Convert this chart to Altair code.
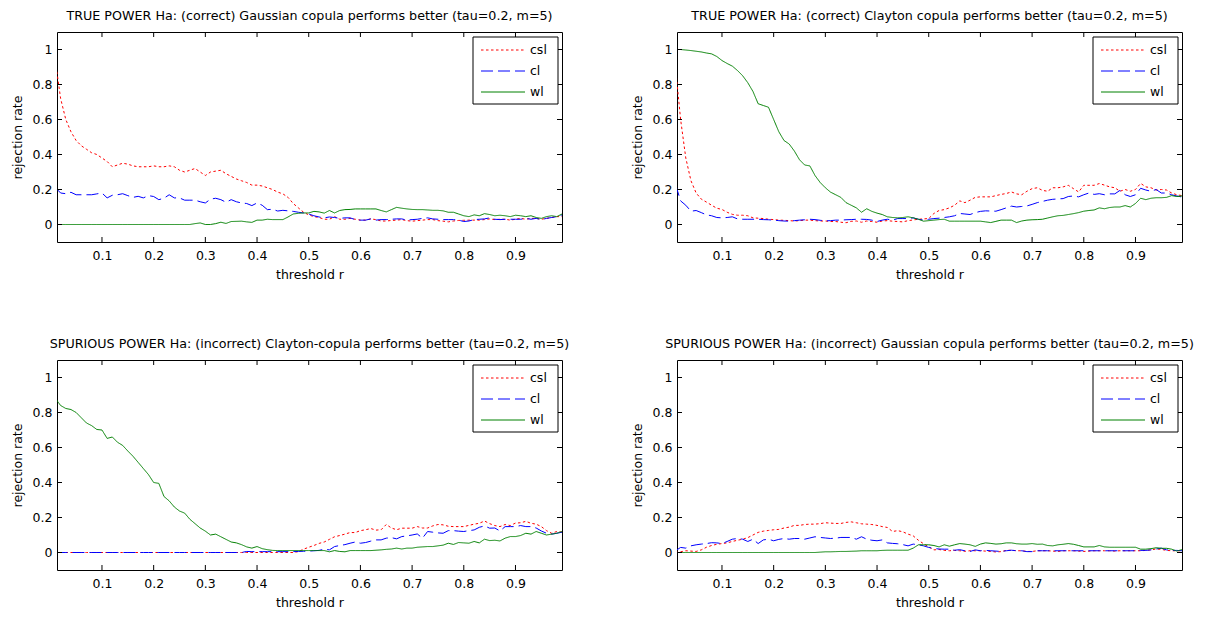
import altair as alt
import pandas as pd

FONT = "DejaVu Sans"

# threshold grid
X = [round(0.01 * i, 2) for i in range(1, 100)]
X_TICKS = [0.1, 0.2, 0.3, 0.4, 0.5, 0.6, 0.7, 0.8, 0.9]
Y_TICKS = [0, 0.2, 0.4, 0.6, 0.8, 1]

TITLES = [
    "TRUE POWER Ha: (correct) Gaussian copula performs better (tau=0.2, m=5)",
    "TRUE POWER Ha: (correct) Clayton copula performs better (tau=0.2, m=5)",
    "SPURIOUS POWER Ha: (incorrect) Clayton-copula performs better (tau=0.2, m=5)",
    "SPURIOUS POWER Ha: (incorrect) Gaussian copula performs better (tau=0.2, m=5)",
]

# ---- panel 1 ----
CSL1 = [0.93, 0.72, 0.60, 0.53, 0.48, 0.45, 0.43, 0.41, 0.40, 0.38,
        0.36, 0.33, 0.34, 0.35, 0.345, 0.335, 0.33, 0.33, 0.33, 0.335,
        0.33, 0.33, 0.335, 0.33, 0.31, 0.30, 0.31, 0.32, 0.30, 0.28,
        0.30, 0.305, 0.31, 0.29, 0.275, 0.26, 0.25, 0.24, 0.225, 0.225,
        0.22, 0.21, 0.20, 0.185, 0.175, 0.155, 0.12, 0.095, 0.07, 0.055,
        0.045, 0.04, 0.03, 0.03, 0.045, 0.03, 0.03, 0.035, 0.03, 0.025,
        0.025, 0.032, 0.028, 0.02, 0.02, 0.023, 0.025, 0.028, 0.022, 0.019,
        0.022, 0.025, 0.028, 0.028, 0.022, 0.019, 0.015, 0.02, 0.023, 0.024,
        0.025, 0.025, 0.025, 0.028, 0.032, 0.028, 0.03, 0.03, 0.025, 0.03,
        0.035, 0.03, 0.035, 0.035, 0.03, 0.035, 0.04, 0.045, 0.045]
CL1 = [0.21, 0.18, 0.176, 0.184, 0.17, 0.17, 0.17, 0.17, 0.175, 0.18,
       0.152, 0.167, 0.17, 0.176, 0.165, 0.155, 0.161, 0.152, 0.165, 0.16,
       0.142, 0.15, 0.17, 0.152, 0.152, 0.139, 0.139, 0.139, 0.13, 0.123,
       0.145, 0.15, 0.142, 0.127, 0.142, 0.13, 0.123, 0.12, 0.108, 0.123,
       0.11, 0.085, 0.087, 0.077, 0.081, 0.078, 0.075, 0.07, 0.066, 0.06,
       0.05, 0.043, 0.038, 0.043, 0.04, 0.035, 0.038, 0.038, 0.028, 0.025,
       0.025, 0.032, 0.025, 0.028, 0.028, 0.03, 0.032, 0.032, 0.025, 0.028,
       0.03, 0.035, 0.038, 0.032, 0.03, 0.028, 0.028, 0.028, 0.025, 0.017,
       0.02, 0.028, 0.03, 0.032, 0.038, 0.03, 0.028, 0.03, 0.03, 0.03,
       0.03, 0.035, 0.03, 0.035, 0.028, 0.035, 0.04, 0.045, 0.055]
WL1 = [0, 0, 0, 0, 0, 0, 0, 0, 0, 0,
       0, 0, 0, 0, 0, 0, 0, 0, 0, 0,
       0, 0, 0, 0, 0, 0, 0, 0.005, 0.009, 0.0,
       0.0, 0.005, 0.013, 0.006, 0.017, 0.018, 0.019, 0.015, 0.012, 0.025,
       0.025, 0.03, 0.028, 0.028, 0.028, 0.043, 0.06, 0.064, 0.066, 0.066,
       0.075, 0.072, 0.065, 0.08, 0.066, 0.08, 0.085, 0.086, 0.089, 0.089,
       0.089, 0.089, 0.089, 0.08, 0.072, 0.085, 0.098, 0.093, 0.089, 0.086,
       0.085, 0.085, 0.083, 0.081, 0.081, 0.078, 0.07, 0.07, 0.06, 0.05,
       0.045, 0.055, 0.05, 0.062, 0.057, 0.05, 0.053, 0.05, 0.045, 0.053,
       0.05, 0.045, 0.05, 0.04, 0.035, 0.045, 0.05, 0.045, 0.06]

# ---- panel 2 ----
CSL2 = [0.90, 0.60, 0.38, 0.25, 0.18, 0.145, 0.128, 0.11, 0.093, 0.086,
        0.07, 0.058, 0.053, 0.053, 0.05, 0.038, 0.036, 0.034, 0.03, 0.028,
        0.025, 0.024, 0.022, 0.02, 0.022, 0.025, 0.025, 0.022, 0.02, 0.02,
        0.017, 0.017, 0.013, 0.01, 0.018, 0.02, 0.013, 0.02, 0.017, 0.013,
        0.02, 0.022, 0.019, 0.017, 0.015, 0.022, 0.026, 0.03, 0.032, 0.034,
        0.063, 0.08, 0.085, 0.095, 0.11, 0.135, 0.125, 0.139, 0.155, 0.158,
        0.158, 0.158, 0.165, 0.172, 0.177, 0.186, 0.175, 0.17, 0.19, 0.205,
        0.21, 0.195, 0.19, 0.21, 0.21, 0.215, 0.224, 0.205, 0.186, 0.224,
        0.224, 0.224, 0.234, 0.225, 0.215, 0.21, 0.19, 0.2, 0.19, 0.2,
        0.235, 0.215, 0.21, 0.197, 0.2, 0.197, 0.18, 0.17, 0.165]
CL2 = [0.23, 0.135, 0.11, 0.076, 0.08, 0.068, 0.055, 0.05, 0.04, 0.038,
       0.04, 0.044, 0.032, 0.03, 0.03, 0.03, 0.03, 0.028, 0.027, 0.025,
       0.022, 0.02, 0.019, 0.022, 0.025, 0.027, 0.03, 0.028, 0.024, 0.021,
       0.022, 0.025, 0.025, 0.027, 0.028, 0.03, 0.03, 0.029, 0.025, 0.017,
       0.025, 0.03, 0.025, 0.034, 0.034, 0.034, 0.038, 0.03, 0.025, 0.03,
       0.034, 0.036, 0.04, 0.044, 0.05, 0.063, 0.06, 0.057, 0.068, 0.075,
       0.078, 0.077, 0.076, 0.085, 0.095, 0.105, 0.1, 0.103, 0.106, 0.115,
       0.125, 0.132, 0.139, 0.144, 0.146, 0.148, 0.16, 0.163, 0.158, 0.17,
       0.18, 0.172, 0.176, 0.17, 0.175, 0.175, 0.195, 0.17, 0.16, 0.17,
       0.207, 0.197, 0.19, 0.2, 0.18, 0.18, 0.17, 0.163, 0.157]
WL2 = [1.0, 1.0, 0.997, 0.994, 0.99, 0.986, 0.98, 0.975, 0.96, 0.937,
       0.92, 0.905, 0.88, 0.85, 0.81, 0.76, 0.69, 0.68, 0.67, 0.60,
       0.53, 0.48, 0.46, 0.42, 0.37, 0.34, 0.335, 0.28, 0.24, 0.21,
       0.185, 0.17, 0.155, 0.125, 0.11, 0.095, 0.07, 0.09, 0.075, 0.065,
       0.057, 0.044, 0.04, 0.038, 0.04, 0.044, 0.038, 0.03, 0.019, 0.022,
       0.025, 0.028, 0.03, 0.019, 0.019, 0.019, 0.019, 0.019, 0.019, 0.019,
       0.015, 0.011, 0.018, 0.025, 0.025, 0.025, 0.011, 0.02, 0.025, 0.027,
       0.028, 0.03, 0.037, 0.044, 0.05, 0.052, 0.057, 0.062, 0.068, 0.076,
       0.08, 0.083, 0.095, 0.09, 0.097, 0.1, 0.1, 0.108, 0.1, 0.12,
       0.15, 0.142, 0.15, 0.153, 0.153, 0.155, 0.165, 0.16, 0.163]

# ---- panel 3 ----
CSL3 = [0, 0, 0, 0, 0, 0, 0, 0, 0, 0,
        0, 0, 0, 0, 0, 0, 0, 0, 0, 0,
        0, 0, 0, 0, 0, 0, 0, 0, 0, 0,
        0, 0, 0, 0, 0, 0, 0, 0, 0, 0,
        0, 0, 0, 0, 0, 0, 0, 0.005, 0.019, 0.03,
        0.04, 0.052, 0.06, 0.075, 0.09, 0.097, 0.105, 0.114, 0.114, 0.125,
        0.13, 0.137, 0.128, 0.13, 0.16, 0.14, 0.13, 0.139, 0.139, 0.139,
        0.148, 0.14, 0.14, 0.152, 0.16, 0.158, 0.15, 0.148, 0.148, 0.148,
        0.155, 0.162, 0.167, 0.18, 0.165, 0.154, 0.148, 0.16, 0.154, 0.168,
        0.17, 0.178, 0.167, 0.162, 0.148, 0.125, 0.11, 0.12, 0.116]
CL3 = [0, 0, 0, 0, 0, 0, 0, 0, 0, 0,
       0, 0, 0, 0, 0, 0, 0, 0, 0, 0,
       0, 0, 0, 0, 0, 0, 0, 0, 0, 0,
       0, 0, 0, 0, 0, 0, 0, 0.006, 0.005, 0.005,
       0.005, 0.005, 0.005, 0.005, 0.005, 0.005, 0.005, 0.006, 0.007, 0.008,
       0.01, 0.012, 0.019, 0.015, 0.034, 0.04, 0.045, 0.053, 0.06, 0.053,
       0.057, 0.065, 0.072, 0.072, 0.082, 0.085, 0.078, 0.091, 0.095, 0.1,
       0.106, 0.082, 0.12, 0.116, 0.112, 0.11, 0.125, 0.125, 0.122, 0.12,
       0.125, 0.129, 0.144, 0.152, 0.139, 0.14, 0.123, 0.148, 0.148, 0.148,
       0.154, 0.148, 0.148, 0.14, 0.123, 0.11, 0.105, 0.11, 0.116]
WL3 = [0.88, 0.84, 0.823, 0.817, 0.80, 0.77, 0.74, 0.725, 0.703, 0.70,
       0.652, 0.66, 0.63, 0.612, 0.58, 0.55, 0.515, 0.48, 0.445, 0.40,
       0.395, 0.32, 0.295, 0.26, 0.237, 0.225, 0.19, 0.165, 0.14, 0.122,
       0.10, 0.105, 0.09, 0.075, 0.06, 0.055, 0.045, 0.032, 0.025, 0.034,
       0.022, 0.016, 0.012, 0.011, 0.011, 0.011, 0.011, 0.011, 0.011, 0.011,
       0.011, 0.011, 0.011, 0.004, 0.011, 0.006, 0.004, 0.011, 0.011, 0.011,
       0.011, 0.011, 0.013, 0.015, 0.018, 0.02, 0.025, 0.02, 0.025, 0.025,
       0.03, 0.032, 0.034, 0.034, 0.038, 0.042, 0.053, 0.046, 0.057, 0.055,
       0.053, 0.063, 0.055, 0.076, 0.068, 0.07, 0.066, 0.082, 0.091, 0.091,
       0.097, 0.11, 0.105, 0.12, 0.11, 0.1, 0.105, 0.11, 0.12]

# ---- panel 4 ----
CSL4 = [0.0, 0.004, 0.01, 0.008, 0.006, 0.015, 0.03, 0.04, 0.047, 0.051,
        0.055, 0.063, 0.07, 0.076, 0.085, 0.1, 0.115, 0.122, 0.126, 0.13,
        0.132, 0.14, 0.145, 0.155, 0.155, 0.16, 0.162, 0.162, 0.165, 0.17,
        0.168, 0.166, 0.166, 0.172, 0.175, 0.17, 0.164, 0.162, 0.16, 0.155,
        0.148, 0.143, 0.12, 0.125, 0.118, 0.105, 0.095, 0.07, 0.05, 0.032,
        0.015, 0.017, 0.012, 0.01, 0.012, 0.01, 0.007, 0.01, 0.01, 0.01,
        0.008, 0.006, 0.003, 0.005, 0.012, 0.013, 0.01, 0.01, 0.006, 0.006,
        0.01, 0.01, 0.01, 0.008, 0.006, 0.01, 0.01, 0.01, 0.008, 0.006,
        0.008, 0.01, 0.01, 0.01, 0.01, 0.008, 0.01, 0.01, 0.01, 0.01,
        0.01, 0.012, 0.015, 0.02, 0.018, 0.012, 0.01, 0.01, 0.01]
CL4 = [0.01, 0.029, 0.025, 0.038, 0.044, 0.048, 0.051, 0.056, 0.055, 0.051,
       0.063, 0.076, 0.08, 0.076, 0.063, 0.076, 0.051, 0.072, 0.076, 0.067,
       0.075, 0.08, 0.076, 0.08, 0.08, 0.076, 0.083, 0.09, 0.086, 0.083,
       0.08, 0.082, 0.086, 0.086, 0.086, 0.076, 0.09, 0.076, 0.07, 0.067,
       0.072, 0.055, 0.052, 0.05, 0.045, 0.038, 0.048, 0.044, 0.038, 0.029,
       0.023, 0.02, 0.019, 0.019, 0.013, 0.016, 0.01, 0.006, 0.015, 0.01,
       0.012, 0.01, 0.008, 0.006, 0.01, 0.013, 0.01, 0.01, 0.005, 0.005,
       0.01, 0.01, 0.01, 0.01, 0.01, 0.01, 0.01, 0.01, 0.01, 0.01,
       0.01, 0.01, 0.01, 0.01, 0.01, 0.01, 0.01, 0.01, 0.01, 0.01,
       0.012, 0.012, 0.015, 0.02, 0.025, 0.015, 0.012, 0.012, 0.01]
WL4 = [0, 0, 0, 0, 0, 0, 0, 0, 0, 0,
       0, 0, 0, 0, 0, 0, 0, 0, 0, 0,
       0, 0, 0, 0, 0, 0, 0, 0, 0.002, 0.004,
       0.004, 0.005, 0.006, 0.006, 0.007, 0.008, 0.01, 0.01, 0.01, 0.01,
       0.012, 0.013, 0.013, 0.013, 0.013, 0.013, 0.025, 0.044, 0.044, 0.044,
       0.04, 0.032, 0.044, 0.036, 0.044, 0.051, 0.048, 0.044, 0.035, 0.048,
       0.055, 0.052, 0.048, 0.05, 0.055, 0.055, 0.05, 0.048, 0.048, 0.051,
       0.047, 0.048, 0.04, 0.038, 0.044, 0.047, 0.051, 0.047, 0.04, 0.032,
       0.032, 0.032, 0.04, 0.032, 0.03, 0.03, 0.03, 0.03, 0.03, 0.03,
       0.019, 0.019, 0.022, 0.027, 0.024, 0.024, 0.019, 0.008, 0.017]

SERIES = ["csl", "cl", "wl"]
COLORS = {"csl": "#ff0000", "cl": "#0000ff", "wl": "#008000"}
DASHES = {"csl": [2.5, 2.5], "cl": [12, 5], "wl": [1, 0]}

W, H = 505, 210
XS = alt.Scale(domain=[0.013, 0.99], nice=False, zero=False)
YS = alt.Scale(domain=[-0.1, 1.1], nice=False, zero=False)

FS = 12.5
XAXIS = alt.Axis(values=X_TICKS, format="~g", title="threshold r", ticks=False,
                 domain=False, grid=False, labelPadding=7, titlePadding=7,
                 labelFont=FONT, labelFontSize=FS, labelColor="black",
                 titleFont=FONT, titleFontSize=FS, titleFontWeight="normal",
                 titleColor="black", labelFlush=False, labelOverlap=False)
YAXIS = alt.Axis(values=Y_TICKS, format="~g", title="rejection rate", ticks=False,
                 domain=False, grid=False, labelPadding=5, titlePadding=8,
                 labelFont=FONT, labelFontSize=FS, labelColor="black",
                 titleFont=FONT, titleFontSize=FS, titleFontWeight="normal",
                 titleColor="black", labelOverlap=False)


def panel(title, data):
    layers = []
    for name in SERIES:
        df = pd.DataFrame({"r": X, "rate": data[name]})
        layers.append(
            alt.Chart(df).mark_line(color=COLORS[name], strokeDash=DASHES[name],
                                    strokeWidth=1, clip=True)
            .encode(x=alt.X("r:Q", scale=XS, axis=XAXIS),
                    y=alt.Y("rate:Q", scale=YS, axis=YAXIS))
        )
    xt = pd.DataFrame({"r": X_TICKS})
    yt = pd.DataFrame({"rate": Y_TICKS})
    for y0, y1 in [(0, 5), (H, H - 5)]:
        layers.append(alt.Chart(xt).mark_rule(color="black", strokeWidth=1)
                      .encode(x=alt.X("r:Q", scale=XS, axis=XAXIS),
                              y=alt.value(y0), y2=alt.value(y1)))
    for x0, x1 in [(0, 5), (W, W - 5)]:
        layers.append(alt.Chart(yt).mark_rule(color="black", strokeWidth=1)
                      .encode(y=alt.Y("rate:Q", scale=YS, axis=YAXIS),
                              x=alt.value(x0), x2=alt.value(x1)))
    # legend box
    one = pd.DataFrame({"k": [0]})
    layers.append(alt.Chart(one).mark_rect(fill="white", stroke="black", strokeWidth=1)
                  .encode(x=alt.value(W - 89), x2=alt.value(W - 4),
                          y=alt.value(5), y2=alt.value(72)))
    for i, name in enumerate(SERIES):
        yy = 18 + 21 * i
        layers.append(alt.Chart(one).mark_rule(color=COLORS[name], strokeDash=DASHES[name],
                                               strokeWidth=1)
                      .encode(x=alt.value(W - 81), x2=alt.value(W - 37), y=alt.value(yy)))
        layers.append(alt.Chart(one).mark_text(align="left", baseline="middle", font=FONT,
                                               fontSize=FS, color="black")
                      .encode(x=alt.value(W - 32), y=alt.value(yy), text=alt.value(name)))
    return alt.layer(*layers).properties(
        width=W, height=H,
        title=alt.TitleParams(title, font=FONT, fontSize=12.7, fontWeight="normal",
                              color="black", anchor="middle", frame="group", offset=9),
    )


p1 = panel(TITLES[0], {"csl": CSL1, "cl": CL1, "wl": WL1})
p2 = panel(TITLES[1], {"csl": CSL2, "cl": CL2, "wl": WL2})
p3 = panel(TITLES[2], {"csl": CSL3, "cl": CL3, "wl": WL3})
p4 = panel(TITLES[3], {"csl": CSL4, "cl": CL4, "wl": WL4})

chart = alt.concat(p1, p2, p3, p4, columns=2,
                   spacing={"row": 118, "column": 115}, bounds="flush").properties(
    padding={"left": 10, "top": 9, "right": 0, "bottom": 0},
    background="white",
).configure_view(stroke="black", strokeWidth=1)

chart.save("out.html", embed_options={"renderer": "svg", "actions": False})
